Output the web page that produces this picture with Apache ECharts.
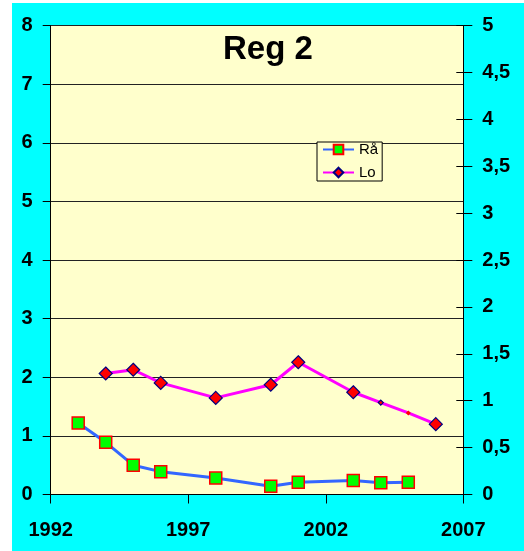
<!DOCTYPE html>
<html>
<head>
<meta charset="utf-8">
<script src="https://cdn.jsdelivr.net/npm/echarts@6/dist/echarts.min.js"></script>
<style>
html,body{margin:0;padding:0;background:#fff;width:524px;height:551px;overflow:hidden;}
#c{position:absolute;left:12px;top:3px;width:512px;height:548px;background:#00FFFF;}
</style>
</head>
<body>
<div id="c"></div>
<script>
// Data
const titleText = 'Reg 2';
const seriesNames = ['Rå', 'Lo'];
const raYears = [1993, 1994, 1995, 1996, 1998, 2000, 2001, 2003, 2004, 2005];
const raValues = [1.22, 0.89, 0.50, 0.39, 0.28, 0.14, 0.21, 0.24, 0.20, 0.21];
const loYears = [1994, 1995, 1996, 1998, 2000, 2001, 2003, 2004, 2005, 2006];
const loValues = [1.29, 1.33, 1.19, 1.03, 1.17, 1.41, 1.09, 0.98, 0.87, 0.75];
const xMin = 1992, xMax = 2007, xStep = 5;
const yLeftMin = 0, yLeftMax = 8, yLeftStep = 1;
const yRightMin = 0, yRightMax = 5, yRightStep = 0.5;

// Points of Lo drawn with a tiny marker in the original
const loTinyYears = [2004, 2005];

const chart = echarts.init(document.getElementById('c'), null, {renderer: 'canvas'});
const FONT = 'Liberation Sans, Arial, sans-serif';
const labelStyle = {fontFamily: FONT, fontSize: 20, fontWeight: 'bold', color: '#000'};

const raData = raYears.map((y, i) => [y, raValues[i]]);
const loData = loYears.map((y, i) => {
  const tiny = loTinyYears.indexOf(y) >= 0;
  return {
    value: [y, loValues[i]],
    symbolSize: tiny ? 5 : 13,
    itemStyle: tiny && y === 2005 ? {color: '#FF0000', borderColor: '#FF0000', borderWidth: 0} : undefined
  };
});

chart.setOption({
  animation: false,
  title: {
    text: titleText,
    left: 211, top: 30, padding: 0,
    textStyle: {fontFamily: FONT, fontSize: 33, fontWeight: 'bold', color: '#000'}
  },
  legend: {
    orient: 'vertical',
    left: 305, top: 139,
    padding: [0, 4, 1, 5],
    itemGap: 8,
    itemWidth: 31, itemHeight: 12,
    backgroundColor: '#FFFFCC',
    borderColor: '#000', borderWidth: 1, borderRadius: 0,
    textStyle: {fontFamily: FONT, fontSize: 15, color: '#000'},
    data: seriesNames
  },
  grid: {
    left: 38.7, right: 60.7, top: 22.5, bottom: 56.5,
    show: true, backgroundColor: '#FFFFCC', borderWidth: 0
  },
  xAxis: {
    type: 'value', min: xMin, max: xMax, interval: xStep,
    axisLine: {show: true, lineStyle: {color: '#000', width: 1}},
    axisTick: {show: true, length: 9, lineStyle: {color: '#000'}},
    axisLabel: Object.assign({margin: 26, formatter: v => String(v)}, labelStyle),
    splitLine: {show: false}
  },
  yAxis: [
    {
      type: 'value', position: 'left', min: yLeftMin, max: yLeftMax, interval: yLeftStep,
      axisLine: {show: true, lineStyle: {color: '#000', width: 1}},
      axisTick: {show: true, length: 8, lineStyle: {color: '#000'}},
      axisLabel: Object.assign({margin: 18}, labelStyle),
      splitLine: {show: true, lineStyle: {color: '#222', width: 1}}
    },
    {
      type: 'value', position: 'right', min: yRightMin, max: yRightMax, interval: yRightStep,
      axisLine: {show: true, lineStyle: {color: '#000', width: 1}},
      axisTick: {show: true, length: 9, lineStyle: {color: '#000'}},
      axisLabel: Object.assign({margin: 19, formatter: v => String(v).replace('.', ',')}, labelStyle),
      splitLine: {show: false}
    },
    {
      type: 'value', position: 'right', min: yRightMin, max: yRightMax, interval: yRightStep,
      axisLine: {show: false},
      axisTick: {show: true, inside: true, length: 7, lineStyle: {color: '#000'}},
      axisLabel: {show: false},
      splitLine: {show: false}
    }
  ],
  series: [
    {
      name: seriesNames[0], type: 'line', yAxisIndex: 0,
      data: raData,
      symbol: 'rect', symbolSize: 12,
      lineStyle: {color: '#3366FF', width: 3},
      itemStyle: {color: '#00FF00', borderColor: '#FF0000', borderWidth: 1.5},
      z: 3
    },
    {
      name: seriesNames[1], type: 'line', yAxisIndex: 1,
      data: loData,
      symbol: 'diamond', symbolSize: 13,
      lineStyle: {color: '#FF00FF', width: 3},
      itemStyle: {color: '#FF0000', borderColor: '#000080', borderWidth: 1.2},
      z: 3
    }
  ]
});
</script>
</body>
</html>
